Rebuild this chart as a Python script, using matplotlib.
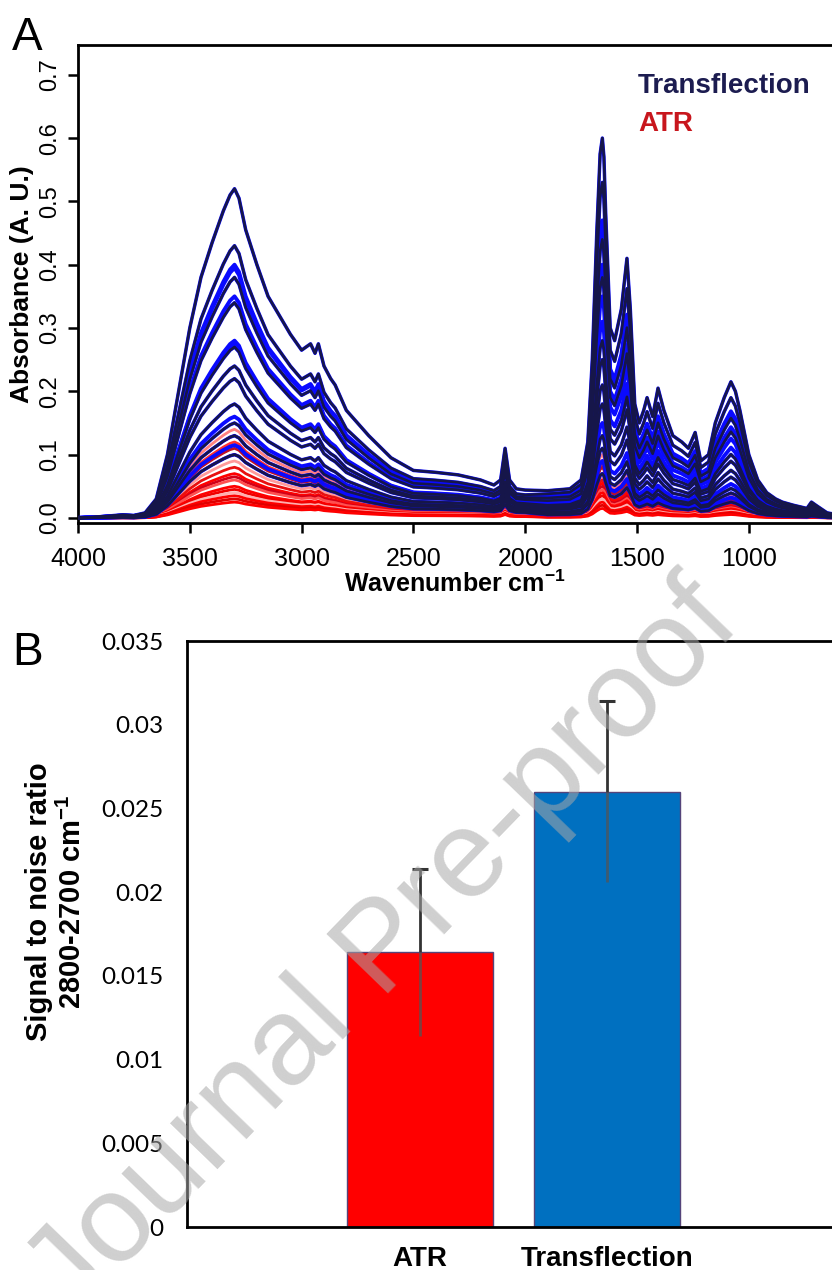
import numpy as np
import matplotlib
matplotlib.use("Agg")
import matplotlib.pyplot as plt

plt.rcParams['font.family'] = ['Liberation Sans', 'DejaVu Sans']
plt.rcParams['mathtext.fontset'] = 'custom'
plt.rcParams['mathtext.rm'] = 'Liberation Sans'
plt.rcParams['mathtext.bf'] = 'Liberation Sans:bold'

# ---------------- Panel A data ----------------
# reference spectrum shape (largest transflection spectrum)
base_wn = [4000, 3900, 3800, 3750, 3700, 3650, 3600, 3550, 3500, 3450, 3400, 3350,
           3320, 3300, 3280, 3250, 3200, 3150, 3100, 3050, 3000, 2960, 2940, 2925,
           2900, 2870, 2850, 2800, 2700, 2600, 2500, 2400, 2300, 2200, 2140, 2110,
           2090, 2070, 2040, 2000, 1900, 1800, 1750, 1720, 1700, 1680, 1665, 1655,
           1648, 1640, 1620, 1600, 1570, 1545, 1530, 1510, 1490, 1470, 1455, 1430,
           1406, 1380, 1340, 1300, 1270, 1240, 1215, 1180, 1150, 1110, 1080, 1060,
           1040, 1000, 960, 920, 880, 850, 800, 740, 720, 700, 650, 600]
base_abs = [0.000, 0.002, 0.005, 0.004, 0.008, 0.030, 0.100, 0.200, 0.300, 0.380, 0.435, 0.485,
            0.510, 0.520, 0.505, 0.455, 0.400, 0.350, 0.320, 0.290, 0.265, 0.275, 0.260, 0.275,
            0.240, 0.220, 0.210, 0.170, 0.130, 0.095, 0.075, 0.072, 0.068, 0.060, 0.052, 0.060,
            0.110, 0.060, 0.046, 0.044, 0.043, 0.046, 0.060, 0.120, 0.250, 0.450, 0.575, 0.600,
            0.570, 0.480, 0.300, 0.280, 0.330, 0.410, 0.330, 0.180, 0.150, 0.170, 0.190, 0.160,
            0.205, 0.170, 0.130, 0.120, 0.110, 0.135, 0.090, 0.100, 0.150, 0.190, 0.215, 0.200,
            0.170, 0.100, 0.060, 0.040, 0.030, 0.025, 0.020, 0.015, 0.025, 0.020, 0.008, 0.005]

# per-spectrum peak heights at 3300 cm-1 (O-H) and 1655 cm-1 (amide I)
trans_peak_oh = [0.52, 0.43, 0.40, 0.395, 0.38, 0.35, 0.34, 0.28, 0.275, 0.27,
                 0.24, 0.22, 0.18, 0.16, 0.15, 0.13, 0.115, 0.10]
trans_peak_amide = [0.60, 0.53, 0.47, 0.46, 0.44, 0.40, 0.38, 0.35, 0.31, 0.28,
                    0.25, 0.21, 0.18, 0.15, 0.13, 0.11, 0.09, 0.07]
trans_dark = [1, 1, 0, 0, 1, 0, 1, 0, 0, 1, 1, 1, 1, 0, 1, 1, 0, 1]
atr_peak_oh = [0.14, 0.13, 0.12, 0.11, 0.10, 0.09, 0.08, 0.07, 0.065, 0.06,
               0.05, 0.045, 0.04, 0.035, 0.03, 0.025]
atr_peak_amide = [0.10, 0.09, 0.085, 0.08, 0.07, 0.065, 0.06, 0.055, 0.05, 0.045,
                  0.04, 0.035, 0.03, 0.025, 0.02, 0.015]
atr_colors = ['#ff8080', '#e00000', '#ff3030', '#c01020', '#ff0000', '#ff9a9a',
              '#e81010', '#ff0000', '#d00018', '#ff5050', '#ff0000', '#f00000',
              '#ffb0b0', '#ff0000', '#e00000', '#ff0000']

# ---------------- Panel B data ----------------
methods = ['ATR', 'Transflection']
snr = [0.0164, 0.0260]
snr_err = [0.0050, 0.0054]
bar_colors = ['#ff0000', '#0070c0']

W, H = 832, 1270
fig = plt.figure(figsize=(W / 100, H / 100), dpi=100)

# ---------------- Panel A ----------------
axA = fig.add_axes([78 / W, 1 - 523 / H, 1 - 78 / W, (523 - 45) / H])
wn = np.array(base_wn, dtype=float)
ab = np.array(base_abs, dtype=float)
hi = wn > 1900
ref_oh = 0.52
ref_am = 0.60


def spectrum(p_oh, p_am):
    return np.where(hi, ab * p_oh / ref_oh, ab * p_am / ref_am)


for p_oh, p_am, c in zip(atr_peak_oh, atr_peak_amide, atr_colors):
    axA.plot(wn, spectrum(p_oh, p_am), color=c, lw=2.0, zorder=2, solid_joinstyle='round')

for p_oh, p_am, d in zip(trans_peak_oh, trans_peak_amide, trans_dark):
    axA.plot(wn, spectrum(p_oh, p_am), color='#0a0aff', lw=2.5 if d else 2.8, zorder=3,
             solid_joinstyle='round')
for p_oh, p_am, d in zip(trans_peak_oh, trans_peak_amide, trans_dark):
    if d:
        axA.plot(wn, spectrum(p_oh, p_am), color='#16164a', lw=1.9, zorder=4,
                 solid_joinstyle='round')

axA.set_xlim(4000, 628)
axA.set_ylim(-0.008, 0.747)
axA.set_xticks([4000, 3500, 3000, 2500, 2000, 1500, 1000])
axA.set_xticklabels(['4000', '3500', '3000', '2500', '2000', '1500', '1000'], fontsize=18)
axA.set_yticks([0.0, 0.1, 0.2, 0.3, 0.4, 0.5, 0.6, 0.7])
axA.set_yticklabels(['0.0', '0.1', '0.2', '0.3', '0.4', '0.5', '0.6', '0.7'],
                    fontsize=17, rotation=90, va='center')
axA.tick_params(axis='both', length=7, width=1.8, color='black')
axA.tick_params(axis='x', pad=10)
axA.tick_params(axis='y', pad=5)
for s in ['top', 'left', 'bottom']:
    axA.spines[s].set_linewidth(2.0)
axA.spines['right'].set_visible(False)
axA.set_xlabel('Wavenumber cm$^{\\mathbf{-1}}$', fontsize=18, fontweight='bold', labelpad=0)
axA.set_ylabel('Absorbance (A. U.)', fontsize=19, fontweight='bold', labelpad=4)
axA.text(0.743, 0.914, 'Transflection', transform=axA.transAxes, color='#1c1c50',
         fontsize=20, fontweight='bold', ha='left', va='center')
axA.text(0.743, 0.835, 'ATR', transform=axA.transAxes, color='#c8161d',
         fontsize=20, fontweight='bold', ha='left', va='center')

fig.text(12 / W, 1 - 50 / H, 'A', fontsize=33, ha='left', va='baseline')

# ---------------- Panel B ----------------
axB = fig.add_axes([187 / W, 1 - 1227 / H, 1 - 187 / W, (1227 - 641) / H])
xpos = np.arange(len(methods))
snr_a = np.array(snr)
err_a = np.array(snr_err)
axB.bar(xpos, snr_a, width=0.78, color=bar_colors, edgecolor='#55447a', linewidth=1.0, zorder=2)
axB.vlines(xpos, snr_a, snr_a + err_a, color='#333333', lw=2, zorder=3)
axB.vlines(xpos, snr_a - err_a, snr_a, color='#555555', lw=2, zorder=3, alpha=0.75)
axB.plot(xpos, snr_a + err_a, ls='none', marker='_', ms=11, mew=2.2, color='#333333', zorder=3)
axB.set_xlim(-1.246, 2.203)
axB.set_ylim(0, 0.035)
axB.set_yticks([0, 0.005, 0.01, 0.015, 0.02, 0.025, 0.03, 0.035])
axB.set_yticklabels(['0', '0.005', '0.01', '0.015', '0.02', '0.025', '0.03', '0.035'],
                    fontsize=17.5, family=['Lato', 'DejaVu Sans'])
axB.set_xticks(xpos)
axB.set_xticklabels(methods, fontsize=20, fontweight='bold')
axB.tick_params(axis='y', length=0, pad=17)
axB.tick_params(axis='x', length=0, pad=14)
for s in ['top', 'left', 'bottom']:
    axB.spines[s].set_linewidth(2.0)
axB.spines['right'].set_visible(False)

fig.text(56 / W, 1 - 902 / H, 'Signal to noise ratio\n2800-2700 cm$^{\\mathbf{-1}}$',
         rotation=90, ha='center', va='center', fontsize=21, fontweight='bold',
         multialignment='center', linespacing=1.2)
fig.text(12 / W, 1 - 665 / H, 'B', fontsize=33, ha='left', va='baseline')

# watermark
fig.text(385 / W, 1 - 950 / H, 'Journal Pre-proof', rotation=46, rotation_mode='anchor',
         ha='center', va='center', fontsize=90, color='#a8a8a8', alpha=0.55, zorder=10)

fig.savefig('out.png', dpi=100)
